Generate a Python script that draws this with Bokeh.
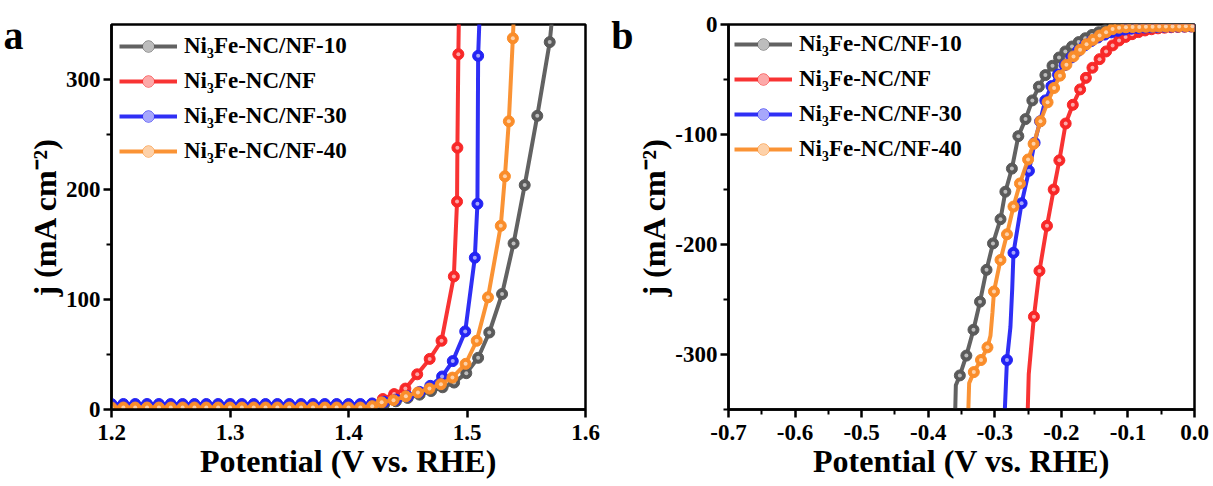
from bokeh.plotting import figure
from bokeh.layouts import row
from bokeh.models import (Range1d, FixedTicker, Legend, LegendItem, LinearAxis,
                          CustomJSTickFormatter)
from bokeh.embed import file_html
from bokeh.resources import INLINE

NAMES = ["Ni\u2083Fe-NC/NF-10", "Ni\u2083Fe-NC/NF", "Ni\u2083Fe-NC/NF-30", "Ni\u2083Fe-NC/NF-40"]
COLORS = ["#5a5a5a", "#f82828", "#2424f4", "#fa8d2a"]

# tick positions
A_XTICKS = [1.2, 1.3, 1.4, 1.5, 1.6]
A_YTICKS = [0, 100, 200, 300]
A_YMINOR = [50, 150, 250]
B_XTICKS = [-0.7, -0.6, -0.5, -0.4, -0.3, -0.2, -0.1, 0.0]
B_XMINOR = [-0.65, -0.55, -0.45, -0.35, -0.25, -0.15, -0.05]
B_YTICKS = [-300, -200, -100, 0]
B_YMINOR = [-350, -250, -150, -50]

FLAT_V = [1.20, 1.21, 1.22, 1.23, 1.24, 1.25, 1.26, 1.27, 1.28, 1.29, 1.30, 1.31,
          1.32, 1.33, 1.34, 1.35, 1.36, 1.37, 1.38, 1.39, 1.40, 1.41, 1.42]

# ---------- panel a (OER) marker points ----------
a10_v = FLAT_V + [1.43, 1.44, 1.45, 1.46, 1.4697, 1.4794, 1.4891, 1.4994, 1.5094,
                  1.5188, 1.5296, 1.5393, 1.5487, 1.5593, 1.5698]
a10_j = [2.5] * 23 + [4.5, 7.5, 10.5, 13.5, 16.8, 20.2, 24.5, 33, 47,
                      70, 105, 151, 204, 267, 334]
a10_end_v, a10_end_j = [1.5722], [360]

aNF_v = FLAT_V + [1.429, 1.4385, 1.448, 1.458, 1.4685, 1.4785, 1.4889, 1.4916, 1.4919, 1.4927]
aNF_j = [3.5] * 22 + [5.0] + [9.5, 14, 19, 32, 46, 62.5, 121, 189, 238, 323]
aNF_end_v, aNF_end_j = [1.4932], [360]

a30_v = FLAT_V + [1.43, 1.44, 1.45, 1.46, 1.469, 1.479, 1.488, 1.4985, 1.5066, 1.5088, 1.5094]
a30_j = [5.0] * 22 + [5.5] + [7, 9, 12, 16, 21.5, 30, 44, 71, 138, 187, 321.5]
a30_end_v, a30_end_j = [1.5107], [360]

a40_v = FLAT_V[:-1] + [1.42, 1.428, 1.438, 1.4484, 1.4586, 1.4683, 1.478, 1.4877, 1.4988,
                       1.5082, 1.5177, 1.5285, 1.532, 1.5353, 1.5387]
a40_j = [1.8] * 22 + [3.0, 6.5, 8.5, 12, 15.5, 19, 23, 29, 41.5,
                      62.5, 102, 167, 212, 262, 337.5]
a40_end_v, a40_end_j = [1.5396], [360]

# ---------- panel b (HER) marker points ----------
b10_v = [-0.3525, -0.3427, -0.332, -0.3222, -0.3124, -0.3027, -0.2914, -0.2841, -0.2743,
         -0.2646, -0.2538, -0.2436, -0.2338, -0.224, -0.2133, -0.2035, -0.194, -0.184,
         -0.174, -0.164, -0.154, -0.144, -0.134, -0.124, -0.114, -0.104, -0.094, -0.084,
         -0.074, -0.064, -0.054, -0.044, -0.034, -0.024, -0.014, -0.004]
b10_j = [-319, -301, -277.5, -252, -223, -199, -177, -152, -131,
         -101.5, -86, -69, -56.5, -46, -37.5, -30, -24.5, -20,
         -16, -12.5, -9.5, -7, -5, -3.8, -3, -2.5, -2.2, -2,
         -1.8, -1.7, -1.6, -1.5, -1.4, -1.3, -1.2, -1.1]
b10_end_v, b10_end_j = [-0.3598, -0.3585], [-360, -328]

bNF_v = [-0.2412, -0.2329, -0.2216, -0.2115, -0.203, -0.1935, -0.1828, -0.1718, -0.1631,
         -0.1533, -0.1426, -0.1328, -0.123, -0.1133, -0.1035, -0.0938, -0.084, -0.0743,
         -0.0645, -0.0548, -0.045, -0.035, -0.025, -0.015, -0.005]
bNF_j = [-265.6, -224, -183, -150, -123.5, -90, -73, -59, -48.5,
         -39.3, -31.5, -24.5, -19, -14.5, -11.3, -8.8, -6.9, -5.4,
         -4.3, -3.5, -2.9, -2.5, -2.2, -2.0, -1.8]
bNF_end_v, bNF_end_j = [-0.2509, -0.249], [-360, -318]

b30_v = [-0.2817, -0.2719, -0.2597, -0.2487, -0.2402, -0.232, -0.2241, -0.215, -0.205,
         -0.195, -0.185, -0.175, -0.165, -0.155, -0.145, -0.135, -0.125, -0.115, -0.105,
         -0.095, -0.085, -0.075, -0.065, -0.055, -0.045, -0.035, -0.025, -0.015, -0.005]
b30_j = [-305, -207.5, -162.5, -133, -107.5, -88, -69, -56, -45.5,
         -37, -30, -24, -19, -15, -11.8, -9.2, -7.2, -5.7, -4.6,
         -3.8, -3.2, -2.8, -2.5, -2.3, -2.1, -2.0, -1.9, -1.8, -1.7]
b30_end_v, b30_end_j = [-0.2856, -0.2765, -0.2738], [-360, -275, -240]

b40_v = [-0.3315, -0.3207, -0.311, -0.3012, -0.2914, -0.2817, -0.2719, -0.2622, -0.25,
         -0.2417, -0.2314, -0.2207, -0.2109, -0.2021, -0.1924, -0.1817, -0.1719, -0.1622,
         -0.1523, -0.1426, -0.1328, -0.123, -0.1133, -0.103, -0.093, -0.083, -0.073,
         -0.063, -0.053, -0.043, -0.033, -0.023, -0.013, -0.003]
b40_j = [-316, -305, -293.5, -242.7, -214, -190.7, -165.5, -144.5, -122.7,
         -108.5, -88, -70.7, -57.7, -46.5, -36.5, -29, -23, -17.9,
         -13.9, -10, -7, -4.2, -2.9, -2.5, -2.3, -2.2, -2.1,
         -2.0, -1.9, -1.9, -1.8, -1.8, -1.7, -1.7]
b40_end_v, b40_end_j = [-0.3402, -0.3385, -0.3065, -0.3035], [-360, -326, -283, -262]

FONT = "Liberation Serif"


def style(p):
    p.outline_line_color = "black"
    p.outline_line_width = 2.5
    p.grid.visible = False
    p.background_fill_color = "white"
    for ax in (p.xaxis[0], p.yaxis[0]):
        ax.axis_line_width = 2.5
        ax.major_tick_line_width = 2.5
        ax.minor_tick_line_width = 2
        ax.major_tick_in = 0
        ax.major_tick_out = 8
        ax.minor_tick_in = 0
        ax.minor_tick_out = 5
        ax.major_label_text_font = FONT
        ax.major_label_text_font_style = "bold"
        ax.major_label_text_font_size = "23px"
        ax.major_label_text_color = "black"
        ax.axis_label_text_font = FONT
        ax.axis_label_text_font_style = "bold"
        ax.axis_label_text_font_size = "32px"
        ax.axis_label_text_color = "black"
    p.xaxis[0].major_label_standoff = 7
    p.xaxis[0].axis_label_standoff = 0
    p.yaxis[0].major_label_standoff = 3
    p.yaxis[0].axis_label_standoff = 0


def add_series(p, mv, mj, ev, ej, color, name):
    pts = sorted(zip(list(mv) + list(ev), list(mj) + list(ej)))
    lv = [a for a, b in pts]
    lj = [b for a, b in pts]
    ln = p.line(lv, lj, line_color=color, line_width=4, line_alpha=0.95)
    sc = p.scatter(mv, mj, size=11, fill_color=color, line_color=color,
                   line_width=1)
    hl = p.scatter(mv, mj, size=4, fill_color="white", fill_alpha=0.6,
                   line_color=None)
    return LegendItem(label=name, renderers=[ln, sc, hl])


def make_panel(xr, yr, xt, xm, yt, ym, series, width, bl, fw, leg_margin,
               letter, letter_at):
    p = figure(width=width, height=485, x_range=Range1d(*xr), y_range=Range1d(*yr),
               output_backend="svg", toolbar_location=None,
               min_border_left=bl, min_border_right=width - bl - fw,
               min_border_top=24, min_border_bottom=76)
    p.xaxis[0].ticker = FixedTicker(ticks=xt, minor_ticks=xm)
    p.yaxis[0].ticker = FixedTicker(ticks=yt, minor_ticks=ym)
    p.xaxis[0].formatter = CustomJSTickFormatter(code="return tick.toFixed(1);")
    p.yaxis[0].formatter = CustomJSTickFormatter(code="return tick.toFixed(0);")
    style(p)
    p.xaxis[0].axis_label = "Potential (V vs. RHE)"
    p.yaxis[0].axis_label = "j (mA cm\u207b\u00b2)"
    # panel letter, drawn as the only label of a bare outer axis on the left
    lab_ax = LinearAxis(ticker=FixedTicker(ticks=[letter_at]),
                        major_label_overrides={letter_at: letter},
                        axis_line_color=None, major_tick_line_color=None,
                        minor_tick_line_color=None, major_tick_in=0, major_tick_out=0,
                        minor_tick_in=0, minor_tick_out=0, major_label_standoff=0,
                        major_label_text_font=FONT, major_label_text_font_style="bold",
                        major_label_text_font_size="40px", major_label_text_color="black")
    p.add_layout(lab_ax, "left")
    items = [add_series(p, *s) for s in series]
    leg = Legend(items=items, location="top_left", margin=leg_margin, padding=0,
                 spacing=7, glyph_width=58, glyph_height=28, label_height=28,
                 label_standoff=7, label_text_font=FONT, label_text_font_style="bold",
                 label_text_font_size="23px", label_text_baseline="middle",
                 label_text_color="black",
                 border_line_color=None, background_fill_alpha=0)
    p.add_layout(leg)
    return p


pa = make_panel((1.2, 1.6), (0, 350), A_XTICKS, [], A_YTICKS, A_YMINOR, [
    (a10_v, a10_j, a10_end_v, a10_end_j, COLORS[0], NAMES[0]),
    (aNF_v, aNF_j, aNF_end_v, aNF_end_j, COLORS[1], NAMES[1]),
    (a30_v, a30_j, a30_end_v, a30_end_j, COLORS[2], NAMES[2]),
    (a40_v, a40_j, a40_end_v, a40_end_j, COLORS[3], NAMES[3]),
], 608, 104, 481, 8, "a", 340)

pb = make_panel((-0.7, 0.0), (-350, 0), B_XTICKS, B_XMINOR, B_YTICKS, B_YMINOR, [
    (b10_v, b10_j, b10_end_v, b10_end_j, COLORS[0], NAMES[0]),
    (bNF_v, bNF_j, bNF_end_v, bNF_end_j, COLORS[1], NAMES[1]),
    (b30_v, b30_j, b30_end_v, b30_end_j, COLORS[2], NAMES[2]),
    (b40_v, b40_j, b40_end_v, b40_end_j, COLORS[3], NAMES[3]),
], 604, 108, 478, 6, "b", -10)

layout = row(pa, pb)
open("out.html", "w").write(file_html(layout, INLINE))
